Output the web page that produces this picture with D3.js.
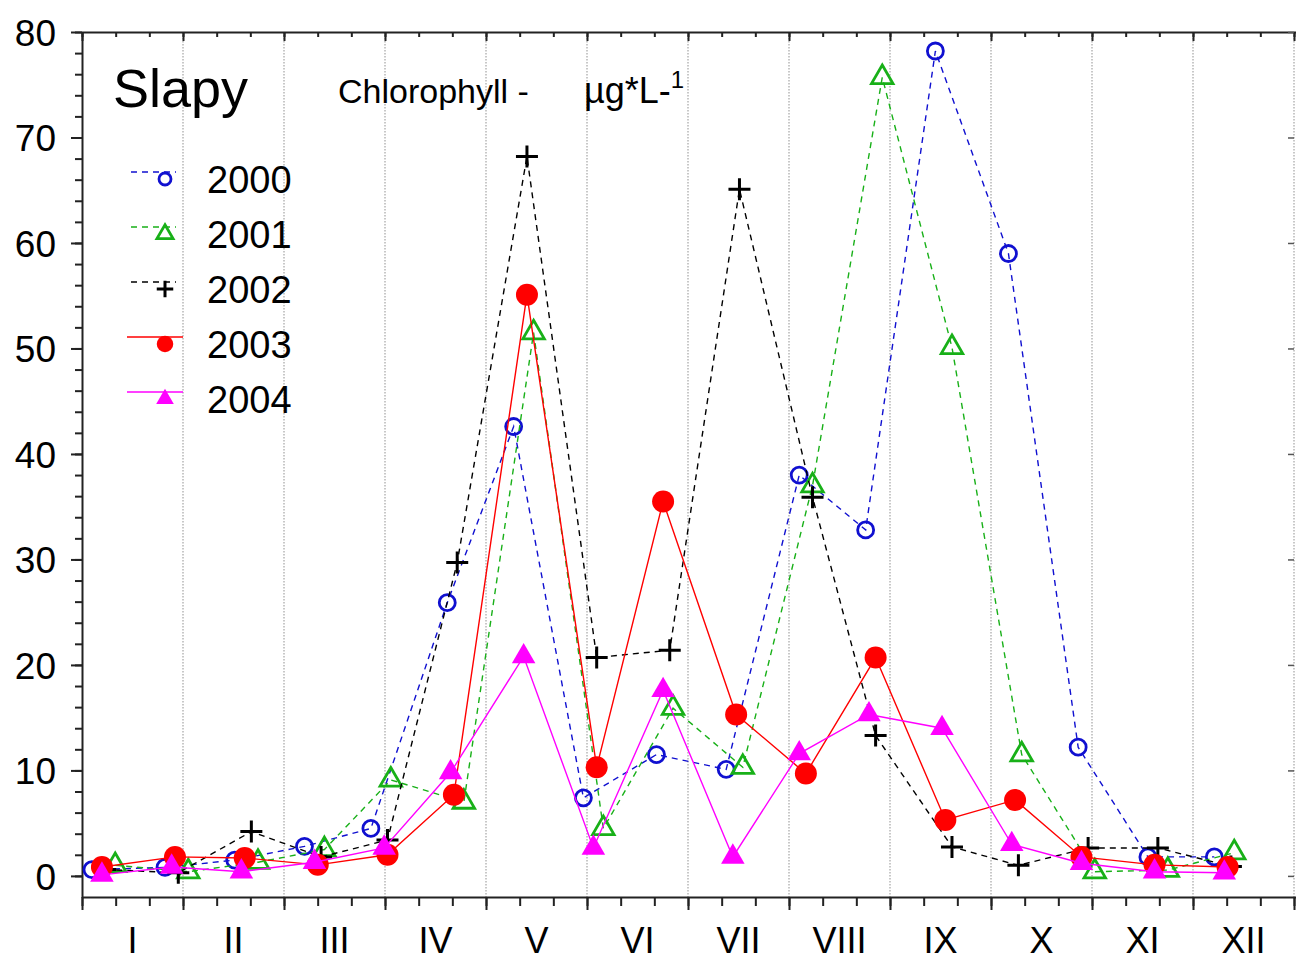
<!DOCTYPE html>
<html>
<head>
<meta charset="utf-8">
<script src="https://cdn.jsdelivr.net/npm/d3@7"></script>
<style>
  body { margin: 0; background: #fff; }
  svg text { font-family: "Liberation Sans", Arial, sans-serif; fill: #000; }
</style>
</head>
<body>
<div id="chart"></div>
<script>
// month labels along the bottom
const monthLabels = ["I", "II", "III", "IV", "V", "VI", "VII", "VIII", "IX", "X", "XI", "XII"];
const years = ["2000", "2001", "2002", "2003", "2004"];
const yTicks = [0, 10, 20, 30, 40, 50, 60, 70, 80];

// sampling day of year + chlorophyll (ug/L)
const days2000 = [3, 25, 46, 67, 87, 110, 130, 151, 173, 194, 216, 236, 257, 279, 300, 321, 341];
const chl2000  = [0.6, 0.8, 1.5, 2.8, 4.5, 25.9, 42.6, 7.4, 11.5, 10.1, 38.0, 32.8, 78.2, 59.0, 12.2, 1.8, 1.8];

const days2001 = [10, 32, 53, 73, 93, 115, 136, 157, 178, 199, 220, 241, 262, 283, 305, 327, 347];
const chl2001  = [1.0, 0.4, 1.3, 2.5, 9.1, 7.0, 51.5, 4.5, 15.9, 10.3, 37.0, 75.7, 50.1, 11.5, 0.4, 0.55, 2.2];

const days2002 = [7, 29, 51, 72, 92, 113, 134, 155, 177, 198, 220, 239, 262, 282, 303, 324, 346];
const chl2002  = [0.6, 0.3, 4.2, 1.8, 3.4, 29.7, 68.2, 20.7, 21.4, 65.1, 35.9, 13.3, 2.75, 1.0, 2.65, 2.65, 0.9];

const days2003 = [6, 28, 49, 71, 92, 112, 134, 155, 175, 197, 218, 239, 260, 281, 301, 323, 345];
const chl2003  = [0.85, 1.8, 1.7, 1.05, 2.0, 7.7, 55.1, 10.3, 35.5, 15.3, 9.7, 20.7, 5.3, 7.2, 1.8, 1.05, 0.85];

const days2004 = [6, 27, 48, 70, 91, 111, 133, 154, 175, 196, 216, 237, 259, 280, 301, 323, 344];
const chl2004  = [0.1, 0.85, 0.4, 1.3, 2.65, 9.8, 20.8, 2.65, 17.6, 1.8, 11.6, 15.3, 14.0, 3.0, 1.2, 0.4, 0.3];

const width = 1296, height = 960;
const mLeft = 82, mRight = 1294, mTop = 32, mBottom = 897;

const series = [
  { name: years[0], days: days2000, vals: chl2000, color: "#1010d0", dash: "6,5", mark: "circle" },
  { name: years[1], days: days2001, vals: chl2001, color: "#18b018", dash: "6,5", mark: "tri" },
  { name: years[2], days: days2002, vals: chl2002, color: "#000000", dash: "6,5", mark: "plus" },
  { name: years[3], days: days2003, vals: chl2003, color: "#ff0000", dash: null, mark: "dot" },
  { name: years[4], days: days2004, vals: chl2004, color: "#ff00ff", dash: null, mark: "ftri" }
];

const x = d3.scaleLinear().domain([0, 365]).range([mLeft, mRight]);
const y = d3.scaleLinear().domain([-2, 80]).range([mBottom, mTop]);

const svg = d3.select("#chart")
  .append("svg")
  .attr("width", width)
  .attr("height", height);

svg.append("rect")
  .attr("width", width)
  .attr("height", height)
  .style("fill", "white");

const monthEdges = d3.range(0, 13).map(i => i * 365 / 12);
const thirds = d3.range(0, 37).map(i => i * 365 / 36);

// dotted month grid
svg.append("g").selectAll("line")
  .data(monthEdges.slice(1))
  .join("line")
  .attr("x1", d => x(d)).attr("x2", d => x(d))
  .attr("y1", mTop).attr("y2", mBottom)
  .style("stroke", "#c8c8c8")
  .style("stroke-width", 2)
  .style("stroke-dasharray", "1.5,1.5");

// bottom axis: minor + major ticks
const bx = svg.append("g").attr("transform", `translate(0,${mBottom})`);
bx.call(d3.axisBottom(x).tickValues(thirds).tickSize(9).tickSizeOuter(0).tickFormat(""));
bx.append("g").call(d3.axisBottom(x).tickValues(monthEdges).tickSize(13).tickSizeOuter(0).tickFormat(""))
  .select(".domain").remove();
bx.selectAll(".domain").attr("d", `M${mLeft},0.5H${width}`);
bx.selectAll("line, path").style("stroke", "#222").style("stroke-width", 2);

// month names centred in each month
svg.append("g").selectAll("text")
  .data(monthLabels)
  .join("text")
  .attr("x", (d, i) => x((i + 0.5) * 365 / 12))
  .attr("y", 953)
  .attr("text-anchor", "middle")
  .style("font-size", "36px")
  .text(d => d);

// top frame with inward ticks
const tx = svg.append("g").attr("transform", `translate(0,${mTop})`);
tx.call(d3.axisBottom(x).tickValues(thirds).tickSize(5).tickSizeOuter(0).tickFormat(""));
tx.append("g").call(d3.axisBottom(x).tickValues(monthEdges).tickSize(9).tickSizeOuter(0).tickFormat(""))
  .select(".domain").remove();
tx.selectAll(".domain").attr("d", `M${mLeft},0.5H${width}`);
tx.selectAll("line, path").style("stroke", "#222").style("stroke-width", 2);

// left axis
const ly = svg.append("g").attr("transform", `translate(${mLeft},0)`);
ly.call(d3.axisLeft(y).tickValues(d3.range(0, 81, 2)).tickSize(7).tickSizeOuter(0).tickFormat(""));
const lyMajor = ly.append("g").call(d3.axisLeft(y).tickValues(yTicks).tickSize(11).tickPadding(15));
lyMajor.select(".domain").remove();
lyMajor.selectAll("text")
  .style("font-size", "37px")
  .style("font-family", "Liberation Sans, Arial, sans-serif")
  .attr("dy", "0.36em");
ly.selectAll("line, path").style("stroke", "#222").style("stroke-width", 2);

// faint right axis ticks
const ry = svg.append("g").attr("transform", `translate(${width - 2},0)`);
ry.call(d3.axisLeft(y).tickValues(yTicks).tickSize(6).tickSizeOuter(0).tickFormat(""));
ry.select(".domain").remove();
ry.selectAll("line").style("stroke", "#555").style("stroke-width", 1.5);

// marker drawing
function drawMark(g, mark, color, cx, cy, s) {
  if (mark === "circle") {
    g.append("circle").attr("cx", cx).attr("cy", cy).attr("r", 8 * s)
      .style("fill", "none").style("stroke", color).style("stroke-width", 2.8);
  } else if (mark === "dot") {
    g.append("circle").attr("cx", cx).attr("cy", cy).attr("r", 11 * s)
      .style("fill", color).style("stroke", "none");
  } else if (mark === "tri" || mark === "ftri") {
    const filled = mark === "ftri";
    g.append("path")
      .attr("transform", `translate(${cx},${cy})`)
      .attr("d", d3.symbol(d3.symbolTriangle, (filled ? 240 : 200) * s * s)())
      .style("fill", filled ? color : "none")
      .style("stroke", color)
      .style("stroke-width", filled ? 0 : 2.8);
  } else if (mark === "plus") {
    const h = 11 * s;
    g.append("path")
      .attr("d", `M${cx - h},${cy}H${cx + h}M${cx},${cy - h}V${cy + h}`)
      .style("stroke", color).style("stroke-width", 3);
  }
}

const line = d3.line().x(d => x(d[0])).y(d => y(d[1]));

series.forEach(s => {
  const pts = s.days.map((d, i) => [d, s.vals[i]]);
  const g = svg.append("g");
  g.append("path")
    .datum(pts)
    .attr("d", line)
    .style("fill", "none")
    .style("stroke", s.color)
    .style("stroke-width", 1.4)
    .style("stroke-dasharray", s.dash);
  pts.forEach(p => drawMark(g, s.mark, s.color, x(p[0]), y(p[1]), 1));
});

// titles
svg.append("text")
  .attr("x", 113).attr("y", 107)
  .style("font-size", "54px")
  .text("Slapy");

const sub = svg.append("text")
  .attr("x", 338).attr("y", 103)
  .style("font-size", "34px");
sub.append("tspan").text("Chlorophyll -");
sub.append("tspan").attr("x", 584).style("font-size", "36px").text("\u00b5g*L-");
sub.append("tspan").attr("dy", -15).style("font-size", "24px").text("1");

// legend
const leg = svg.append("g");
series.forEach((s, i) => {
  const ly0 = 172 + 55 * i;
  const solid = !s.dash;
  leg.append("line")
    .attr("x1", solid ? 127 : 131).attr("x2", solid ? 183 : 176)
    .attr("y1", ly0).attr("y2", ly0)
    .style("stroke", s.color)
    .style("stroke-width", 1.4)
    .style("stroke-dasharray", s.dash);
  drawMark(leg, s.mark, s.color, 165, ly0 + 7, 0.75);
  leg.append("text")
    .attr("x", 207).attr("y", 193 + 55 * i)
    .style("font-size", "38px")
    .text(s.name);
});
</script>
</body>
</html>
